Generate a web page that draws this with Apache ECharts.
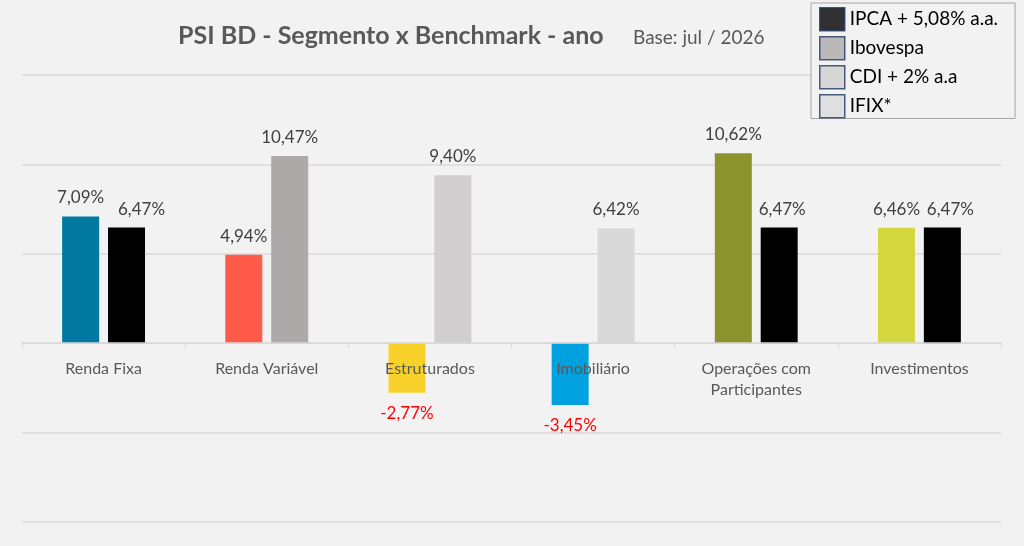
<!DOCTYPE html>
<html>
<head>
<meta charset="utf-8">
<script src="https://cdn.jsdelivr.net/npm/echarts@6/dist/echarts.min.js"></script>
<style>
  html, body { margin: 0; padding: 0; background: #F2F2F2; }
  #main { width: 1024px; height: 546px; }
</style>
</head>
<body>
<div id="main"></div>
<script>
var categorias = ['Renda Fixa', 'Renda Variável', 'Estruturados', 'Imobiliário', 'Operações com\nParticipantes', 'Investimentos'];
var segmento = [7.09, 4.94, -2.77, -3.45, 10.62, 6.46];
var coresSegmento = ['#00789F', '#FF5B4B', '#F8D12B', '#00A1DE', '#8B942C', '#D4D83E'];
var benchmark = [6.47, 10.47, 9.40, 6.42, 6.47, 6.47];
var coresBenchmark = ['#000000', '#ADA9A8', '#D0CECE', '#D9D9D9', '#000000', '#000000'];
var legendaNomes = ['IPCA + 5,08% a.a.', 'Ibovespa', 'CDI + 2% a.a', 'IFIX*'];
var legendaCores = ['#000000', '#ADA9A8', '#D0CECE', '#D9D9D9'];

// deslocamento horizontal dos rotulos do benchmark (como o Excel afasta rotulos colados)
var deslocBenchmark = [15, 0, 0, 0, 3, 8];

var fonte = 'Lato, "Open Sans", sans-serif';

function fmt(v) {
  return v.toFixed(2).replace('.', ',') + '%';
}

function montaDados(valores, cores, desloc) {
  return valores.map(function (v, i) {
    var item = { value: v, itemStyle: { color: cores[i] } };
    if (v < 0) {
      item.label = { position: 'bottom', color: '#FF0000', distance: 12 };
    } else if (desloc && desloc[i]) {
      item.label = { offset: [desloc[i], 0] };
    }
    return item;
  });
}

var chart = echarts.init(document.getElementById('main'));

// series vazias so para a legenda
var seriesLegenda = legendaNomes.map(function (n, i) {
  return {
    name: n,
    type: 'scatter',
    data: [],
    itemStyle: { color: legendaCores[i] }
  };
});

var rotulo = {
  show: true,
  position: 'top',
  distance: 10,
  fontFamily: fonte,
  fontSize: 17,
  color: '#404040',
  formatter: function (p) { return fmt(p.value); }
};

var option = {
  backgroundColor: '#F2F2F2',
  animation: false,
  title: [{
    text: 'PSI BD - Segmento x Benchmark - ano',
    left: 173,
    top: 18,
    textStyle: { fontFamily: fonte, fontSize: 25, fontWeight: 'bold', color: '#595959' }
  }, {
    text: 'Base: jul / 2026',
    left: 628,
    top: 23,
    textStyle: { fontFamily: fonte, fontSize: 19, fontWeight: 'normal', color: '#595959' }
  }],
  legend: {
    orient: 'vertical',
    left: 811,
    top: 3,
    padding: [4, 17, 0, 8],
    itemGap: 4.5,
    itemWidth: 25,
    itemHeight: 23,
    backgroundColor: '#F2F2F2',
    borderColor: '#A6A6A6',
    borderWidth: 1,
    borderRadius: 0,
    selectedMode: false,
    icon: 'rect',
    textStyle: { fontFamily: fonte, fontSize: 19, lineHeight: 24, color: '#000000' },
    data: legendaNomes.map(function (n) {
      return { name: n, itemStyle: { borderColor: '#1F3864', borderWidth: 1.5 } };
    })
  },
  grid: {
    left: 22,
    right: 23,
    top: 75,
    bottom: 24,
    outerBoundsMode: 'none',
    containLabel: false
  },
  xAxis: {
    type: 'category',
    data: categorias,
    z: 5,
    axisLine: { onZero: true, lineStyle: { color: '#D9D9D9', width: 1.5 } },
    axisTick: { show: true, length: 5, lineStyle: { color: '#D9D9D9' } },
    axisLabel: {
      fontFamily: fonte, fontSize: 16, color: '#595959', margin: -164, lineHeight: 21
    }
  },
  yAxis: {
    type: 'value',
    min: -10,
    max: 15,
    interval: 5,
    axisLabel: { show: false },
    axisLine: { show: false },
    axisTick: { show: false },
    splitLine: { lineStyle: { color: '#D9D9D9', width: 1.5 } }
  },
  series: [{
    name: 'Segmento',
    type: 'bar',
    barWidth: 37,
    barGap: '24%',
    data: montaDados(segmento, coresSegmento),
    label: rotulo
  }, {
    name: 'Benchmark',
    type: 'bar',
    barWidth: 37,
    data: montaDados(benchmark, coresBenchmark, deslocBenchmark),
    label: rotulo
  }].concat(seriesLegenda)
};

chart.setOption(option);
</script>
</body>
</html>
